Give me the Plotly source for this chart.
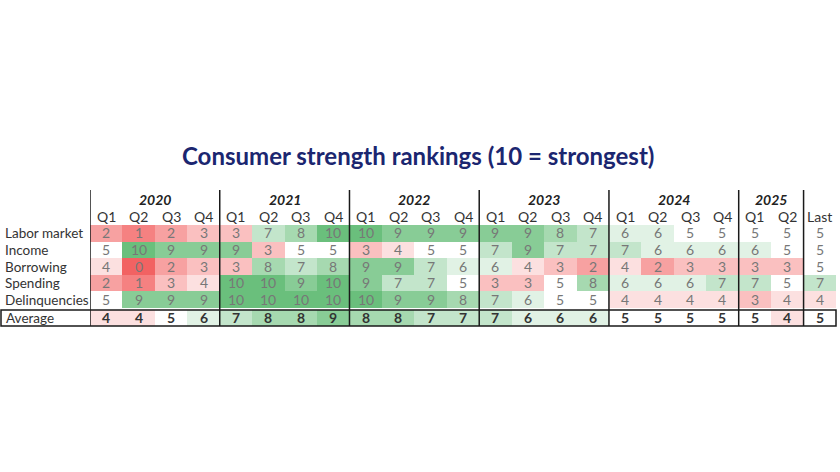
import plotly.graph_objects as go

W, H = 840, 472

years = ["2020", "2021", "2022", "2023", "2024", "2025"]
year_sizes = [4, 4, 4, 4, 4, 2]
col_labels = (["Q1", "Q2", "Q3", "Q4"] * 5) + ["Q1", "Q2", "Last"]
row_labels = ["Labor market", "Income", "Borrowing", "Spending", "Delinquencies"]

labor_market  = [2, 1, 2, 3, 3, 7, 8, 10, 10, 9, 9, 9, 9, 9, 8, 7, 6, 6, 5, 5, 5, 5, 5]
income        = [5, 10, 9, 9, 9, 3, 5, 5, 3, 4, 5, 5, 7, 9, 7, 7, 7, 6, 6, 6, 6, 5, 5]
borrowing     = [4, 0, 2, 3, 3, 8, 7, 8, 9, 9, 7, 6, 6, 4, 3, 2, 4, 2, 3, 3, 3, 3, 5]
spending      = [2, 1, 3, 4, 10, 10, 9, 10, 9, 7, 7, 5, 3, 3, 5, 8, 6, 6, 6, 7, 7, 5, 7]
delinquencies = [5, 9, 9, 9, 10, 10, 10, 10, 10, 9, 9, 8, 7, 6, 5, 5, 4, 4, 4, 4, 3, 4, 4]
average       = [4, 4, 5, 6, 7, 8, 8, 9, 8, 8, 7, 7, 7, 6, 6, 6, 5, 5, 5, 5, 5, 4, 5]

title = "Consumer strength rankings (10 = strongest)"

def py(px):
    return 1 - px / H

def pxx(px):
    return px / W

colorscale = [[0.0, "#f26262"], [0.5, "#ffffff"], [1.0, "#6abf7c"]]
FONT = "Lato"

ncol = len(col_labels)
xs = list(range(ncol))
z_main = [labor_market, income, borrowing, spending, delinquencies]

fig = go.Figure()
fig.add_trace(go.Heatmap(
    z=z_main, x=xs, y=list(range(len(row_labels))),
    colorscale=colorscale, zmin=0, zmax=10, showscale=False,
    texttemplate="%{z}", textfont=dict(family=FONT, size=14, color="#777777"),
    hoverinfo="skip", xaxis="x", yaxis="y"))
fig.add_trace(go.Heatmap(
    z=[average], x=xs, y=[0],
    colorscale=colorscale, zmin=0, zmax=10, showscale=False,
    texttemplate="<b>%{z}</b>", textfont=dict(family=FONT, size=14, color="#333333"),
    hoverinfo="skip", xaxis="x", yaxis="y2"))

x_dom = [pxx(90), pxx(836)]
fig.update_layout(
    width=W, height=H, margin=dict(l=0, r=0, t=0, b=0),
    paper_bgcolor="white", plot_bgcolor="white",
    xaxis=dict(domain=x_dom, range=[-0.5, ncol - 0.5], visible=False, fixedrange=True),
    yaxis=dict(domain=[py(308), py(225)], range=[len(row_labels) - 0.5, -0.5],
               visible=False, fixedrange=True),
    yaxis2=dict(domain=[py(326), py(310)], range=[0.5, -0.5], visible=False,
                fixedrange=True, anchor="x"),
    showlegend=False,
)

ann = []
ann.append(dict(text=f"<b>{title}</b>", x=pxx(418), y=py(155), xref="paper", yref="paper",
                xanchor="center", yanchor="middle", showarrow=False,
                font=dict(family=FONT, size=24, color="#1b2670")))
# year headers
start = 0
for yr, n in zip(years, year_sizes):
    cx = start + (n - 1) / 2
    ann.append(dict(text=f"<b><i>{yr}</i></b>", x=cx, y=py(199), xref="x", yref="paper",
                    yanchor="middle", showarrow=False,
                    font=dict(family=FONT, size=14, color="#222222")))
    start += n
# column labels
for i, c in enumerate(col_labels):
    ann.append(dict(text=c, x=i, y=py(216), xref="x", yref="paper", yanchor="middle",
                    showarrow=False, font=dict(family=FONT, size=14, color="#333333")))
# row labels
for i, r in enumerate(row_labels):
    ann.append(dict(text=r, x=pxx(3), y=i, xref="paper", yref="y", xanchor="left",
                    yanchor="middle", showarrow=False,
                    font=dict(family=FONT, size=13.5, color="#333333")))
ann.append(dict(text="Average", x=pxx(4), y=0, xref="paper", yref="y2", xanchor="left",
                yanchor="middle", showarrow=False,
                font=dict(family=FONT, size=13.5, color="#333333")))
fig.update_layout(annotations=ann)

shapes = []
bounds = [-0.5]
acc = 0
for n in year_sizes:
    acc += n
    bounds.append(acc - 0.5)
for b in bounds:
    if b >= ncol - 0.5:
        continue
    shapes.append(dict(type="line", xref="x", yref="paper", x0=b, x1=b,
                       y0=py(326), y1=py(190), line=dict(color="#1a1a1a", width=1.5)))
shapes.append(dict(type="rect", xref="paper", yref="paper", x0=pxx(1), x1=pxx(836),
                   y0=py(326), y1=py(310), line=dict(color="#1a1a1a", width=1.5)))
fig.update_layout(shapes=shapes)

fig.write_html("out.html", config={"displayModeBar": False},
               post_script="document.body.style.margin='0';")
